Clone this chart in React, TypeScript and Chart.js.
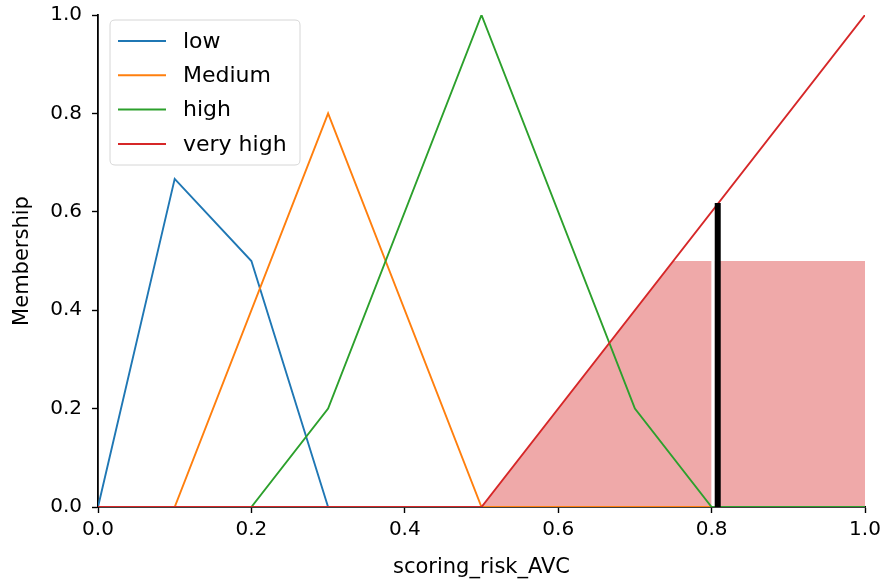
import React, { useEffect, useRef } from "react";
import { Chart, registerables } from "chart.js";

Chart.register(...registerables);

const lowX = [0, 0.1, 0.2, 0.3, 1.0];
const lowY = [0, 0.667, 0.5, 0, 0];
const mediumX = [0, 0.1, 0.3, 0.5, 1.0];
const mediumY = [0, 0, 0.8, 0, 0];
const highX = [0, 0.2, 0.3, 0.5, 0.7, 0.8, 1.0];
const highY = [0, 0, 0.2, 1.0, 0.2, 0, 0];
const veryHighX = [0, 0.5, 1.0];
const veryHighY = [0, 0, 1.0];
const aggLeftX = [0, 0.5, 0.75, 0.8];
const aggLeftY = [0, 0, 0.5, 0.5];
const aggRightX = [0.804, 1.0];
const aggRightY = [0.5, 0.5];
const crispX = 0.808;
const crispY = 0.618;
const tickValues = [0, 0.2, 0.4, 0.6, 0.8, 1.0];
const seriesNames = ["low", "Medium", "high", "very high"];
const seriesColors = ["#1f77b4", "#ff7f0e", "#2ca02c", "#d62728"];

const FONT = "'DejaVu Sans', sans-serif";

const pts = (xs: number[], ys: number[]) => xs.map((x, i) => ({ x, y: ys[i] }));

const legendPlugin = {
  id: "boxLegend",
  afterDraw(chart: any) {
    const ctx = chart.ctx;
    const x0 = 110, y0 = 20, w = 190, h = 145;
    ctx.save();
    ctx.beginPath();
    const r = 5;
    ctx.moveTo(x0 + r, y0);
    ctx.lineTo(x0 + w - r, y0);
    ctx.quadraticCurveTo(x0 + w, y0, x0 + w, y0 + r);
    ctx.lineTo(x0 + w, y0 + h - r);
    ctx.quadraticCurveTo(x0 + w, y0 + h, x0 + w - r, y0 + h);
    ctx.lineTo(x0 + r, y0 + h);
    ctx.quadraticCurveTo(x0, y0 + h, x0, y0 + h - r);
    ctx.lineTo(x0, y0 + r);
    ctx.quadraticCurveTo(x0, y0, x0 + r, y0);
    ctx.closePath();
    ctx.fillStyle = "rgba(255,255,255,0.8)";
    ctx.fill();
    ctx.strokeStyle = "#d6d6d6";
    ctx.lineWidth = 1;
    ctx.stroke();
    ctx.font = `22px ${FONT}`;
    ctx.textBaseline = "middle";
    ctx.fillStyle = "#000";
    seriesNames.forEach((name, i) => {
      const y = 41 + i * 34.3;
      ctx.beginPath();
      ctx.moveTo(118, y);
      ctx.lineTo(166, y);
      ctx.strokeStyle = seriesColors[i];
      ctx.lineWidth = 2;
      ctx.stroke();
      ctx.fillText(name, 183, y + 1);
    });
    ctx.restore();
  },
};

export default function App() {
  const ref = useRef<HTMLCanvasElement>(null);
  useEffect(() => {
    if (!ref.current) return;
    const lineDs = (i: number, xs: number[], ys: number[]) => ({
      label: seriesNames[i],
      data: pts(xs, ys),
      borderColor: seriesColors[i],
      backgroundColor: seriesColors[i],
      borderWidth: 1.9,
      pointRadius: 0,
      fill: false,
      tension: 0,
      order: 5 - i,
    });
    const fillDs = (xs: number[], ys: number[]) => ({
      label: "aggregated",
      data: pts(xs, ys),
      borderWidth: 0,
      borderColor: "rgba(0,0,0,0)",
      backgroundColor: "rgba(214,39,40,0.4)",
      pointRadius: 0,
      fill: "origin",
      order: 10,
    });
    const chart = new Chart(ref.current, {
      type: "line",
      data: {
        datasets: [
          fillDs(aggLeftX, aggLeftY),
          fillDs(aggRightX, aggRightY),
          lineDs(0, lowX, lowY),
          lineDs(1, mediumX, mediumY),
          lineDs(2, highX, highY),
          lineDs(3, veryHighX, veryHighY),
          {
            label: "crisp",
            data: [
              { x: crispX, y: 0 },
              { x: crispX, y: crispY },
            ],
            borderColor: "#000",
            borderWidth: 6,
            borderCapStyle: "butt",
            pointRadius: 0,
            fill: false,
            order: 0,
          },
        ] as any,
      },
      options: {
        animation: false,
        responsive: false,
        maintainAspectRatio: false,
        layout: { padding: { left: 10, top: 15, right: 19, bottom: 0 } },
        plugins: {
          legend: { display: false },
          tooltip: { enabled: false },
        },
        scales: {
          x: {
            type: "linear",
            min: 0,
            max: 1,
            afterBuildTicks: (s: any) => {
              s.ticks = tickValues.map((v) => ({ value: v }));
            },
            afterFit: (s: any) => {
              s.height = 77;
              s.paddingLeft = 0;
              s.paddingRight = 0;
            },
            ticks: {
              color: "#000",
              font: { family: FONT, size: 20 },
              padding: 5,
              maxRotation: 0,
              callback: (v: any) => Number(v).toFixed(1),
            },
            grid: {
              display: true,
              drawOnChartArea: false,
              drawTicks: true,
              tickLength: 6,
              tickColor: "#000",
              tickWidth: 1.4,
            },
            border: { display: true, color: "#000", width: 1.8 },
            title: {
              display: true,
              text: "scoring_risk_AVC",
              color: "#000",
              font: { family: FONT, size: 21 },
              padding: { top: 0, bottom: 4 },
            },
          },
          y: {
            type: "linear",
            min: 0,
            max: 1,
            afterBuildTicks: (s: any) => {
              s.ticks = tickValues.map((v) => ({ value: v }));
            },
            afterFit: (s: any) => {
              s.width = 88;
              s.paddingTop = 0;
              s.paddingBottom = 0;
            },
            ticks: {
              color: "#000",
              font: { family: FONT, size: 20 },
              padding: 10,
              callback: (v: any) => Number(v).toFixed(1),
            },
            grid: {
              display: true,
              drawOnChartArea: false,
              drawTicks: true,
              tickLength: 6,
              tickColor: "#000",
              tickWidth: 1.4,
            },
            border: { display: true, color: "#000", width: 1.8 },
            title: {
              display: true,
              text: "Membership",
              color: "#000",
              font: { family: FONT, size: 21 },
              padding: { top: 0, bottom: 0 },
            },
          },
        },
      },
      plugins: [legendPlugin],
    } as any);
    return () => chart.destroy();
  }, []);
  return (
    <div style={{ position: "fixed", left: 0, top: 0, width: 884, height: 584, background: "#fff" }}>
      <canvas ref={ref} width={884} height={584} style={{ width: 884, height: 584, display: "block" }} />
    </div>
  );
}
